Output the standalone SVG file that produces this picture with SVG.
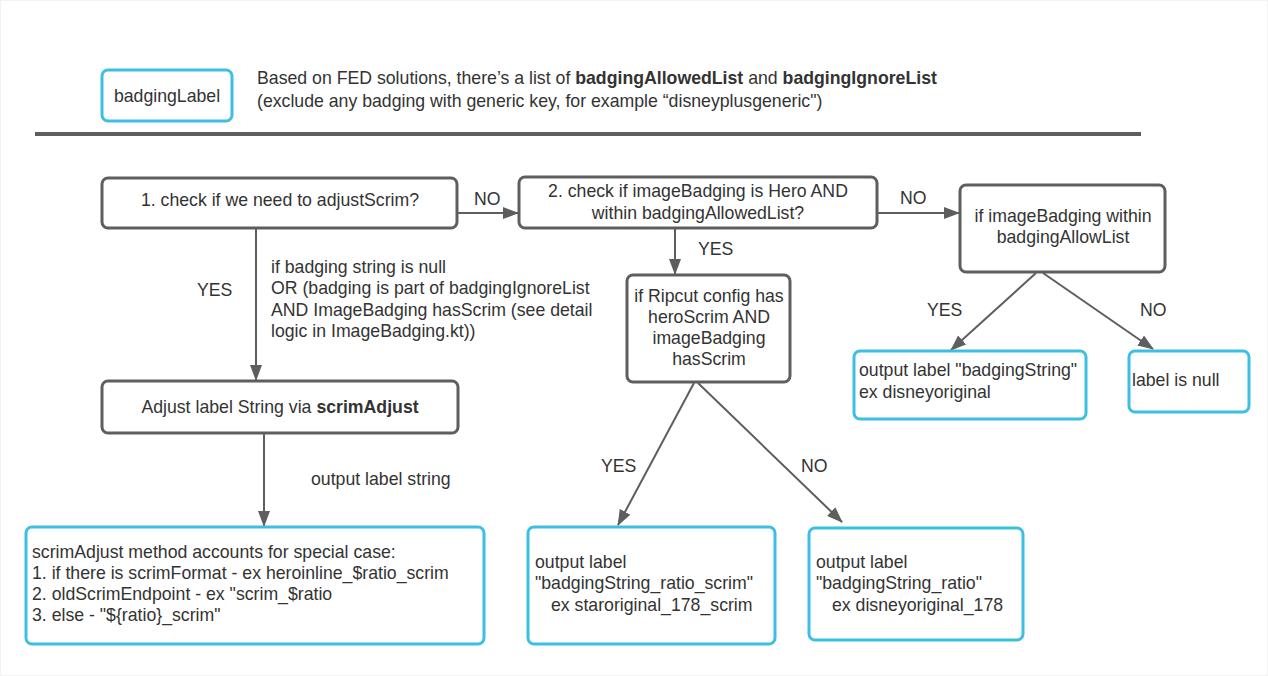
<svg xmlns="http://www.w3.org/2000/svg" width="1268" height="676" viewBox="0 0 1268 676">
<style>
text{font-family:"Liberation Sans",Arial,sans-serif;font-size:17.7px;fill:#333;}
.c{text-anchor:middle;}
.b{font-weight:bold;}
.g{fill:#fff;stroke:#5e5e5e;stroke-width:3;}
.cy{fill:#fff;stroke:#3cbfe2;stroke-width:3;}
.ln{fill:none;stroke:#5e5e5e;stroke-width:2;}
</style>
<defs>
<marker id="ah" viewBox="0 0 16 12" refX="15" refY="6" markerWidth="16" markerHeight="12" markerUnits="userSpaceOnUse" orient="auto">
<path d="M0,0 L16,6 L0,12 Z" fill="#5e5e5e"/>
</marker>
</defs>
<rect x="0" y="0" width="1268" height="676" fill="#fff"/>
<rect x="0.5" y="0.5" width="1267" height="675" fill="none" stroke="#f2f2f2"/>

<g id="legend">
<rect class="cy" x="102" y="70" width="130" height="51" rx="6"/>
<text class="c" x="167" y="102">badgingLabel</text>
</g>
<g id="header-note">
<text x="257" y="84">Based on FED solutions, there’s a list of <tspan class="b">badgingAllowedList</tspan> and <tspan class="b">badgingIgnoreList</tspan></text>
<text x="257" y="107">(exclude any badging with generic key, for example “disneyplusgeneric")</text>
</g>
<g id="divider">
<line x1="35" y1="134" x2="1141" y2="134" stroke="#5e5e5e" stroke-width="4"/>
</g>

<g id="connectors">
<line class="ln" x1="457" y1="213" x2="518" y2="213" marker-end="url(#ah)"/>
<line class="ln" x1="877" y1="213" x2="959" y2="213" marker-end="url(#ah)"/>
<line class="ln" x1="256" y1="229" x2="256" y2="380" marker-end="url(#ah)"/>
<line class="ln" x1="264" y1="433" x2="264" y2="526" marker-end="url(#ah)"/>
<line class="ln" x1="675" y1="228" x2="675" y2="274" marker-end="url(#ah)"/>
<line class="ln" x1="694" y1="383" x2="618" y2="525" marker-end="url(#ah)"/>
<line class="ln" x1="698" y1="383" x2="842" y2="522" marker-end="url(#ah)"/>
<line class="ln" x1="1036" y1="273" x2="951" y2="350" marker-end="url(#ah)"/>
<line class="ln" x1="1043" y1="273" x2="1153" y2="349" marker-end="url(#ah)"/>
<text x="474" y="205">NO</text>
<text x="900" y="204">NO</text>
<text x="197" y="296">YES</text>
<text x="271" y="273">if badging string is null</text>
<text x="271" y="294">OR (badging is part of badgingIgnoreList</text>
<text x="271" y="316">AND ImageBadging hasScrim (see detail</text>
<text x="271" y="337">logic in ImageBadging.kt))</text>
<text x="311" y="485">output label string</text>
<text x="698" y="255">YES</text>
<text x="601" y="472">YES</text>
<text x="801" y="472">NO</text>
<text x="927" y="316">YES</text>
<text x="1140" y="316">NO</text>
</g>

<g id="check-adjust">
<rect class="g" x="102" y="178" width="355" height="50" rx="6"/>
<text class="c" x="280" y="206">1. check if we need to adjustScrim?</text>
</g>
<g id="check-hero">
<rect class="g" x="519" y="177" width="358" height="51" rx="6"/>
<text class="c" x="698" y="197">2. check if imageBadging is Hero AND</text>
<text class="c" x="698" y="219">within badgingAllowedList?</text>
</g>
<g id="check-allow">
<rect class="g" x="960" y="185" width="205" height="87" rx="6"/>
<text class="c" x="1063" y="222">if imageBadging within</text>
<text class="c" x="1063" y="243">badgingAllowList</text>
</g>
<g id="adjust-label">
<rect class="g" x="102" y="381" width="356" height="52" rx="6"/>
<text class="c" x="280" y="413">Adjust label String via <tspan class="b">scrimAdjust</tspan></text>
</g>
<g id="scrim-adjust">
<rect class="cy" x="26" y="527" width="458" height="117" rx="6"/>
<text x="32" y="558">scrimAdjust method accounts for special case:</text>
<text x="32" y="579">1. if there is scrimFormat - ex heroinline_$ratio_scrim</text>
<text x="32" y="600">2. oldScrimEndpoint - ex "scrim_$ratio</text>
<text x="32" y="621">3. else - "${ratio}_scrim"</text>
</g>
<g id="ripcut">
<rect class="g" x="627" y="275" width="163" height="107" rx="6"/>
<text class="c" x="709" y="302">if Ripcut config has</text>
<text class="c" x="709" y="323">heroScrim AND</text>
<text class="c" x="709" y="344">imageBadging</text>
<text class="c" x="709" y="365">hasScrim</text>
</g>
<g id="ratio-scrim">
<rect class="cy" x="528" y="527" width="247" height="117" rx="6"/>
<text x="535" y="568">output label</text>
<text x="535" y="589">"badgingString_ratio_scrim"</text>
<text x="551" y="611">ex staroriginal_178_scrim</text>
</g>
<g id="ratio">
<rect class="cy" x="809" y="528" width="214" height="112" rx="6"/>
<text x="816" y="568">output label</text>
<text x="816" y="589">"badgingString_ratio"</text>
<text x="832" y="611">ex disneyoriginal_178</text>
</g>
<g id="badging-string">
<rect class="cy" x="854" y="351" width="232" height="68" rx="6"/>
<text x="859" y="376">output label "badgingString"</text>
<text x="859" y="398">ex disneyoriginal</text>
</g>
<g id="label-null">
<rect class="cy" x="1129" y="351" width="120" height="61" rx="6"/>
<text x="1132" y="386">label is null</text>
</g>
</svg>
